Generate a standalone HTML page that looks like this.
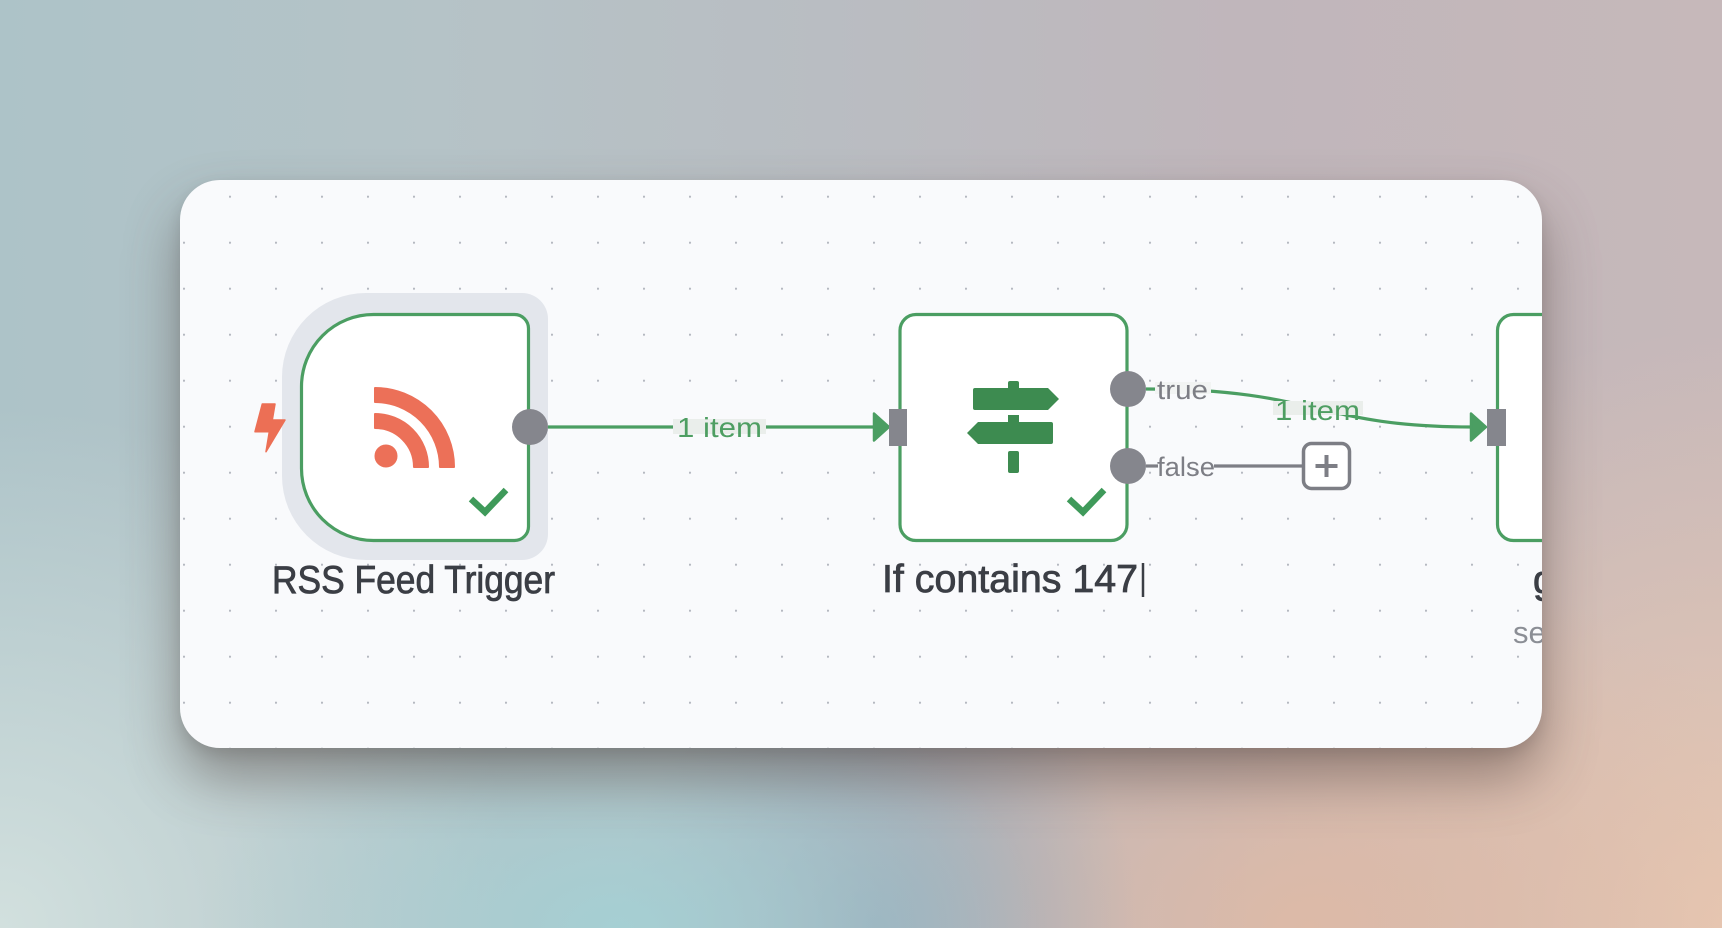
<!DOCTYPE html>
<html>
<head>
<meta charset="utf-8">
<style>
  html, body { margin:0; padding:0; }
  body {
    width:1722px; height:928px; overflow:hidden; position:relative;
    background:
      radial-gradient(ellipse 420px 260px at 36% 100%, rgba(164,208,212,0.95), rgba(164,208,212,0) 100%),
      radial-gradient(ellipse 260px 300px at 51% 100%, rgba(150,168,184,0.9), rgba(150,168,184,0) 100%),
      radial-gradient(ellipse 520px 380px at 76% 100%, rgba(222,186,166,0.95), rgba(222,186,166,0) 100%),
      radial-gradient(ellipse 520px 520px at 0% 100%, rgba(210,224,222,1), rgba(210,224,222,0) 100%),
      radial-gradient(ellipse 520px 600px at 100% 100%, rgba(232,200,178,1), rgba(232,200,178,0) 100%),
      linear-gradient(90deg, #adc3c8 0%, #b5c3c7 25%, #b9bdc2 48%, #c0b6bb 72%, #c6b8ba 100%);
  }
  .card {
    position:absolute; left:180px; top:180px; width:1362px; height:568px;
    border-radius:40px; background:#f9fafc;
    box-shadow: 0 30px 55px rgba(70,55,50,0.45), 0 6px 14px rgba(0,0,0,0.10);
  }
  svg { position:absolute; left:0; top:0; }
  text { font-family:"Liberation Sans", "Noto Sans CJK KR", sans-serif; }
</style>
</head>
<body>
<div class="card"></div>
<svg width="1722" height="928" viewBox="0 0 1722 928" xmlns="http://www.w3.org/2000/svg">
  <defs>
    <clipPath id="cardclip">
      <rect x="180" y="180" width="1362" height="568" rx="40" ry="40"/>
    </clipPath>
    <pattern id="dots" x="183" y="195.7" width="46" height="46" patternUnits="userSpaceOnUse">
      <circle cx="1" cy="1" r="1.1" fill="#b3b7bf"/>
    </pattern>
  </defs>
  <g clip-path="url(#cardclip)">
    <rect x="180" y="180" width="1362" height="568" fill="url(#dots)"/>

    <!-- RSS node halo -->
    <path d="M366,293 H522 A26,26 0 0 1 548,319 V534 A26,26 0 0 1 522,560 H366 A84,84 0 0 1 282,476 V377 A84,84 0 0 1 366,293 Z" fill="#e3e6ec"/>
    <!-- RSS node -->
    <path d="M373.5,314.5 H514.5 A14,14 0 0 1 528.5,328.5 V526.5 A14,14 0 0 1 514.5,540.5 H373.5 A72,72 0 0 1 301.5,468.5 V386.5 A72,72 0 0 1 373.5,314.5 Z" fill="#ffffff" stroke="#4b9e62" stroke-width="3.2"/>
    <!-- lightning -->
    <polygon points="262.3,404 275,404 272.3,420 285,420 266,451.7 269.3,431.7 255,431.7" fill="#ec6f55" stroke="#ec6f55" stroke-width="1.5" stroke-linejoin="round"/>
    <!-- RSS icon -->
    <g fill="#ec7058" stroke="#ec7058" stroke-width="2" stroke-linejoin="round">
      <path d="M375,388 A79,79 0 0 1 454,467 L440,467 A65,65 0 0 0 375,402 Z"/>
      <path d="M375,414 A53,53 0 0 1 428,467 L414,467 A39,39 0 0 0 375,428 Z"/>
      <circle cx="386" cy="456" r="10.5"/>
    </g>
    <!-- check RSS -->
    <polyline points="471,499 485,512 506,490" fill="none" stroke="#3f9a5a" stroke-width="6.5"/>

    <!-- connection 1 -->
    <line x1="548" y1="427" x2="876" y2="427" stroke="#4b9e62" stroke-width="3.2"/>
    <rect x="673" y="419" width="93" height="15" fill="#eaeeeb"/>
    <text x="677" y="437" font-size="28" fill="#4e9e62" textLength="85" lengthAdjust="spacingAndGlyphs">1 item</text>
    <polygon points="874,413.5 889,427 874,440.5" fill="#4b9e62" stroke="#4b9e62" stroke-width="2.5" stroke-linejoin="round"/>
    <circle cx="530" cy="427" r="18" fill="#85868d"/>

    <!-- If node -->
    <rect x="900" y="314.5" width="227" height="226" rx="16" ry="16" fill="#ffffff" stroke="#4b9e62" stroke-width="3.2"/>
    <rect x="889" y="409" width="18" height="37" fill="#85868d"/>
    <g fill="#3d8b50">
      <path d="M975,388 H1048 L1059,399 L1048,410 H975 Q973,410 973,408 V390 Q973,388 975,388 Z"/>
      <rect x="1008" y="381" width="11" height="9" rx="2"/>
      <rect x="1008" y="415" width="11" height="9"/>
      <path d="M1051,422 H978 L967,433 L978,444 H1051 Q1053,444 1053,442 V424 Q1053,422 1051,422 Z"/>
      <rect x="1008" y="451" width="11" height="22" rx="2"/>
    </g>
    <polyline points="1069,499 1083,512 1104,490" fill="none" stroke="#3f9a5a" stroke-width="6.5"/>

    <!-- true branch -->
    <path d="M1146,389 C1317,389 1317,427 1472,427" fill="none" stroke="#4b9e62" stroke-width="3.2"/>
    <rect x="1155" y="382" width="56" height="12" fill="#f2f4f3"/>
    <text x="1157" y="399" font-size="27" fill="#7d7e85" textLength="51" lengthAdjust="spacingAndGlyphs">true</text>
    <rect x="1273" y="401" width="90" height="14" fill="#eaeeeb"/>
    <text x="1275" y="420" font-size="28" fill="#4e9e62" textLength="85" lengthAdjust="spacingAndGlyphs">1 item</text>
    <polygon points="1471,413.5 1486,427 1471,440.5" fill="#4b9e62" stroke="#4b9e62" stroke-width="2.5" stroke-linejoin="round"/>

    <!-- false branch -->
    <line x1="1146" y1="466" x2="1158" y2="466" stroke="#7d7e85" stroke-width="3.2"/>
    <line x1="1214" y1="466" x2="1303" y2="466" stroke="#7d7e85" stroke-width="3.2"/>
    <text x="1157" y="476" font-size="27" fill="#7d7e85" textLength="58" lengthAdjust="spacingAndGlyphs">false</text>
    <rect x="1303.5" y="443.5" width="46" height="45" rx="8" ry="8" fill="#ffffff" stroke="#7d7e85" stroke-width="3.5"/>
    <line x1="1315.5" y1="466" x2="1337.5" y2="466" stroke="#7d7e85" stroke-width="4"/>
    <line x1="1326.5" y1="455" x2="1326.5" y2="477" stroke="#7d7e85" stroke-width="4"/>

    <circle cx="1128" cy="389" r="18" fill="#85868d"/>
    <circle cx="1128" cy="466" r="18" fill="#85868d"/>

    <!-- third node -->
    <rect x="1497.5" y="314.5" width="227" height="226" rx="16" ry="16" fill="#ffffff" stroke="#4b9e62" stroke-width="3.2"/>
    <rect x="1487" y="409" width="19" height="37" fill="#85868d"/>

    <!-- labels -->
    <text x="272" y="593" font-size="39" fill="#3b3e45" textLength="283" lengthAdjust="spacingAndGlyphs" stroke="#3b3e45" stroke-width="0.8">RSS Feed Trigger</text>
    <text x="882" y="592" font-size="39" fill="#3b3e45" textLength="256" lengthAdjust="spacingAndGlyphs" stroke="#3b3e45" stroke-width="0.8">If contains 147</text>
    <line x1="1143" y1="563" x2="1143" y2="597" stroke="#3b3e45" stroke-width="2.5"/>
    <text x="1533" y="593" font-size="39" fill="#3b3e45" stroke="#3b3e45" stroke-width="0.8">gmail</text>
    <text x="1513" y="643" font-size="31" fill="#8b8e95">send</text>
  </g>
</svg>
</body>
</html>
